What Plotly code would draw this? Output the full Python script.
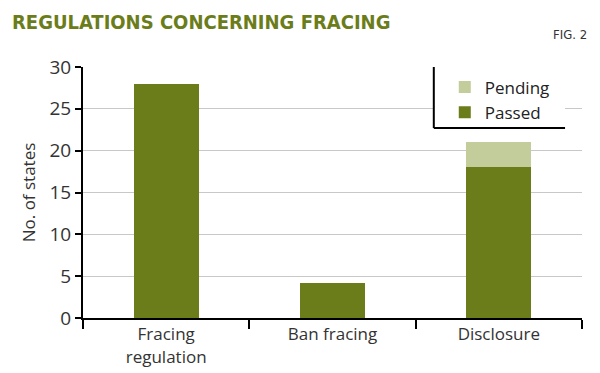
import plotly.graph_objects as go

categories = ["Fracing<br>regulation", "Ban fracing", "Disclosure"]
passed = [28, 4.2, 18]
pending = [0, 0, 3]

DARK = "#6b7d1a"
LIGHT = "#c3cc9b"

fig = go.Figure()
fig.add_trace(go.Bar(x=categories, y=passed, name="Passed", marker_color=DARK, marker_line_width=0, width=0.39))
fig.add_trace(go.Bar(x=categories, y=pending, name="Pending", marker_color=LIGHT, marker_line_width=0, width=0.39))

# page has an 8px default body margin: figure is drawn at (8,8)
fig.update_layout(
    width=592, height=365,
    barmode="stack",
    plot_bgcolor="white", paper_bgcolor="white",
    margin=dict(l=75, r=18, t=59, b=55),
    font=dict(family="Open Sans", color="#222"),
    showlegend=True,
    legend=dict(
        x=0.725, y=0.99, xanchor="left", yanchor="top",
        traceorder="reversed", bgcolor="rgba(0,0,0,0)",
        font=dict(size=17, family="Open Sans", color="#222"),
        itemwidth=30, tracegroupgap=0,
    ),
    bargap=0.61,
)
fig.update_yaxes(
    range=[0, 30], dtick=5, showgrid=True, gridcolor="#c8c8c8", gridwidth=1,
    showline=True, linecolor="black", linewidth=2,
    ticks="outside", ticklen=6, tickwidth=2, tickcolor="black",
    tickfont=dict(size=19, family="Open Sans", color="#333"),
    title=dict(text="No. of states", font=dict(size=17, family="Open Sans", color="#333"), standoff=10),
    zeroline=False, automargin=False,
)
fig.update_xaxes(
    showline=True, linecolor="black", linewidth=2,
    ticks="outside", tickson="boundaries", ticklen=9, tickwidth=2, tickcolor="black",
    tickfont=dict(size=17, family="Open Sans", color="#333"),
    automargin=False,
)

# legend frame: white backing plus left and bottom lines
fig.add_shape(type="rect", xref="paper", yref="paper", x0=0.703, x1=0.966, y0=0.757, y1=1.0,
              fillcolor="white", line_width=0, layer="above")
fig.add_shape(type="line", xref="paper", yref="paper", x0=0.703, x1=0.703, y0=1.0, y1=0.757,
              line=dict(color="black", width=2), layer="above")
fig.add_shape(type="line", xref="paper", yref="paper", x0=0.703, x1=0.966, y0=0.757, y1=0.757,
              line=dict(color="black", width=2), layer="above")

fig.add_annotation(text="<b>REGULATIONS CONCERNING FRACING</b>", xref="paper", yref="paper",
                   x=-0.146, y=1.178, xanchor="left", yanchor="middle", showarrow=False,
                   font=dict(size=20, family="DejaVu Sans Condensed", color=DARK))
fig.add_annotation(text="FIG. 2", xref="paper", yref="paper",
                   x=1.014, y=1.129, xanchor="right", yanchor="middle", showarrow=False,
                   font=dict(size=13, family="DejaVu Sans Condensed", color="#333"))

fig.write_html("out.html")
